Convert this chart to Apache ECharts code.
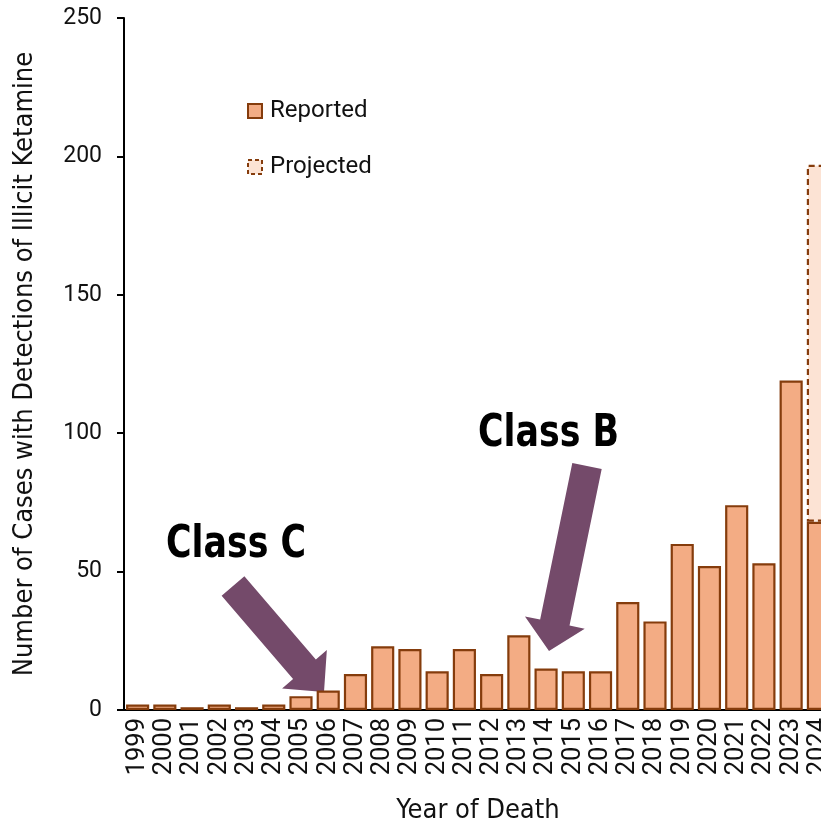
<!DOCTYPE html>
<html>
<head>
<meta charset="utf-8">
<script src="https://cdn.jsdelivr.net/npm/echarts@6/dist/echarts.min.js"></script>
<style>
html,body{margin:0;padding:0;background:#fff;}
#chart{width:821px;height:824px;}
</style>
</head>
<body>
<div id="chart"></div>
<script>
var years = ['1999','2000','2001','2002','2003','2004','2005','2006','2007','2008','2009','2010','2011','2012','2013','2014','2015','2016','2017','2018','2019','2020','2021','2022','2023','2024'];
var reported = [2,2,1,2,1,2,5,7,13,23,22,14,22,13,27,15,14,14,39,32,60,52,74,53,119,68];
// extra on top of reported to reach projected total (197) for 2024
var projectedExtra = [null,null,null,null,null,null,null,null,null,null,null,null,null,null,null,null,null,null,null,null,null,null,null,null,null,129];
var yTicks = [0,50,100,150,200,250];

var fill = '#F3AC84', edge = '#853C0C', projFill = '#FCE3D4', arrowCol = '#744A6A';
var narrow = '"DejaVu Sans Condensed","DejaVu Sans",sans-serif';

// arrow polygon from tail to tip
function arrow(x0,y0,x1,y1,sw,hw,hl){
    var dx=x1-x0, dy=y1-y0, L=Math.sqrt(dx*dx+dy*dy);
    var ux=dx/L, uy=dy/L, nx=-uy, ny=ux;
    var bx=x1-ux*hl, by=y1-uy*hl;
    return [
        [x0+nx*sw/2,y0+ny*sw/2],[bx+nx*sw/2,by+ny*sw/2],[bx+nx*hw/2,by+ny*hw/2],
        [x1,y1],
        [bx-nx*hw/2,by-ny*hw/2],[bx-nx*sw/2,by-ny*sw/2],[x0-nx*sw/2,y0-ny*sw/2]
    ];
}

var myChart = echarts.init(document.getElementById('chart'));
var option = {
    animation:false,
    grid:{left:124,top:18,width:708,height:692,outerBoundsMode:'none'},
    legend:{
        orient:'vertical',left:242,top:94,icon:'rect',itemWidth:14,itemHeight:14,itemGap:32,
        textStyle:{fontFamily:'Roboto',fontSize:24,color:'#111',padding:[0,0,0,3]},
        data:[
            {name:'Reported',itemStyle:{color:fill,borderColor:edge,borderWidth:2}},
            {name:'Projected',itemStyle:{color:projFill,borderColor:edge,borderWidth:2,borderType:[4,3]}}
        ]
    },
    xAxis:{
        type:'category',data:years,
        name:'Year of Death',nameLocation:'middle',nameGap:87,
        nameTextStyle:{fontFamily:narrow,fontSize:27,color:'#111'},
        axisLine:{lineStyle:{color:'#000',width:2}},
        axisTick:{alignWithLabel:true,length:7,lineStyle:{color:'#000',width:2}},
        axisLabel:{interval:0,rotate:90,fontFamily:'Roboto',fontSize:25.5,color:'#111',margin:8}
    },
    yAxis:{
        type:'value',min:0,max:250,interval:50,
        name:'Number of Cases with Detections of Illicit Ketamine',nameLocation:'middle',nameGap:86,
        nameTextStyle:{fontFamily:narrow,fontSize:27,color:'#111'},
        axisLine:{show:true,lineStyle:{color:'#000',width:2}},
        axisTick:{show:true,length:7,lineStyle:{color:'#000',width:2}},
        axisLabel:{fontFamily:'Roboto',fontSize:23,color:'#111',margin:22},
        splitLine:{show:false}
    },
    series:[
        {name:'Reported',type:'bar',stack:'k',data:reported,barCategoryGap:'15%',
         itemStyle:{color:fill,borderColor:edge,borderWidth:2.2}},
        {name:'Projected',type:'bar',stack:'k',data:projectedExtra,barCategoryGap:'15%',
         itemStyle:{color:projFill,borderColor:edge,borderWidth:2.2,borderType:[6,4]}}
    ],
    graphic:[
        {type:'polygon',shape:{points:arrow(233,586,324,692,30,59,30)},style:{fill:arrowCol}},
        {type:'polygon',shape:{points:arrow(587,466,549,651,30,61,29)},style:{fill:arrowCol}},
        {type:'text',x:166,y:523,scaleX:0.86,style:{text:'Class C',font:'bold 45px '+narrow,fill:'#000',verticalAlign:'top'}},
        {type:'text',x:478,y:412,scaleX:0.86,style:{text:'Class B',font:'bold 45px '+narrow,fill:'#000',verticalAlign:'top'}}
    ]
};
myChart.setOption(option);
</script>
</body>
</html>
